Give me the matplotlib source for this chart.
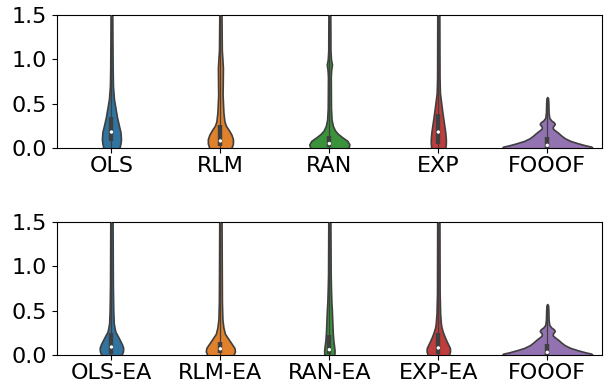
import numpy as np
import matplotlib
matplotlib.use("Agg")
import matplotlib.pyplot as plt
from matplotlib.colors import to_rgb
import colorsys

# category labels
top_labels = ["OLS", "RLM", "RAN", "EXP", "FOOOF"]
bottom_labels = ["OLS-EA", "RLM-EA", "RAN-EA", "EXP-EA", "FOOOF"]

# violin outlines: levels and relative density (half widths)
ols_y = [-0.05, 0.0, 0.05, 0.1, 0.18, 0.25, 0.35, 0.45, 0.55, 0.7, 0.9, 1.2, 1.6]
ols_d = [8, 8, 9, 9.5, 9, 7.5, 5.5, 4, 2.5, 1.5, 1.2, 1.0, 0.8]
rlm_y = [-0.05, 0.0, 0.05, 0.1, 0.15, 0.2, 0.25, 0.3, 0.4, 0.6, 0.8, 0.9, 1.0, 1.1, 1.6]
rlm_d = [11, 11, 12.5, 12.5, 11, 8.5, 5.5, 4, 3, 2.2, 2.4, 2.5, 2, 1.4, 1.0]
ran_y = [-0.05, 0.0, 0.04, 0.08, 0.12, 0.16, 0.2, 0.25, 0.32, 0.45, 0.8, 0.88, 0.94, 1.0, 1.1, 1.6]
ran_d = [19, 19, 20, 18, 13, 8.5, 5.5, 3.5, 2.2, 1.6, 1.4, 1.8, 2.6, 1.6, 1.1, 0.9]
exp_y = [-0.05, 0.0, 0.05, 0.1, 0.17, 0.25, 0.35, 0.45, 0.54, 0.62, 0.8, 1.6]
exp_d = [7, 7, 7.5, 7.5, 7, 6, 4.7, 3.5, 2.5, 1.6, 1.2, 1.0]
fooof_y = [-0.05, 0.0, 0.015, 0.03, 0.055, 0.08, 0.11, 0.14, 0.17, 0.2, 0.22,
           0.24, 0.27, 0.29, 0.31, 0.34, 0.4, 0.5, 0.56, 0.575]
fooof_d = [45, 45, 44, 38, 30, 23, 17.5, 14, 11, 7.5, 5.5,
           5.5, 7.5, 6.5, 4, 2, 1.3, 1.1, 0.8, 0.0]

olsea_y = [-0.05, 0.0, 0.04, 0.08, 0.12, 0.17, 0.22, 0.26, 0.31, 0.36, 0.5, 0.8, 1.6]
olsea_d = [10, 10, 11.5, 11.7, 10.5, 8.3, 6, 4, 3, 2.3, 1.8, 1.4, 1.1]
rlmea_y = [-0.05, 0.0, 0.04, 0.08, 0.13, 0.18, 0.24, 0.31, 0.4, 0.6, 1.6]
rlmea_d = [13, 13, 14.5, 14, 11, 8, 4.5, 3, 2, 1.5, 1.1]
ranea_y = [-0.05, 0.0, 0.05, 0.1, 0.17, 0.25, 0.36, 0.5, 0.6, 0.75, 0.9, 1.6]
ranea_d = [5, 5, 5.2, 4.7, 3.9, 3.4, 3, 2.5, 2, 1.6, 1.3, 1.0]
expea_y = [-0.05, 0.0, 0.04, 0.08, 0.15, 0.2, 0.26, 0.31, 0.36, 0.47, 0.7, 1.6]
expea_d = [10.5, 10.5, 11.7, 11.5, 8.5, 6.5, 4.5, 3.2, 2.5, 1.8, 1.3, 1.1]

# inner box: q1, median, q3, upper whisker
top_q1 = [0.08, 0.02, 0.01, 0.05, 0.005]
top_med = [0.18, 0.08, 0.05, 0.18, 0.03]
top_q3 = [0.35, 0.26, 0.14, 0.38, 0.12]
top_whi = [1.6, 1.6, 1.6, 1.6, 0.56]
bot_q1 = [0.01, 0.02, 0.01, 0.01, 0.005]
bot_med = [0.09, 0.07, 0.06, 0.08, 0.03]
bot_q3 = [0.25, 0.15, 0.22, 0.25, 0.12]
bot_whi = [1.6, 1.6, 1.6, 1.6, 0.56]

top_shapes = [(ols_y, ols_d), (rlm_y, rlm_d), (ran_y, ran_d), (exp_y, exp_d), (fooof_y, fooof_d)]
bot_shapes = [(olsea_y, olsea_d), (rlmea_y, rlmea_d), (ranea_y, ranea_d),
              (expea_y, expea_d), (fooof_y, fooof_d)]

base = ["#1f77b4", "#ff7f0e", "#2ca02c", "#d62728", "#9467bd"]


def desat(c, s=0.75):
    h, l, sat = colorsys.rgb_to_hls(*to_rgb(c))
    return colorsys.hls_to_rgb(h, l, sat * s)


colors = [desat(c) for c in base]
scale = 1 / 108.6  # density units -> x data units
edge = "#3f3f3f"

fig = plt.figure(figsize=(6.06, 3.86), dpi=100)
ax1 = fig.add_axes([0.094, 0.6166, 0.899, 0.3446])
ax2 = fig.add_axes([0.094, 0.0803, 0.899, 0.3446])


def draw(ax, shapes, labels, q1, med, q3, whi):
    for i, (yy, dd) in enumerate(shapes):
        yy = np.array(yy)
        w = np.array(dd) * scale
        ax.fill_betweenx(yy, i - w, i + w, facecolor=colors[i], edgecolor=edge,
                         linewidth=1.2, zorder=2)
        ax.vlines(i, max(0, q1[i] - 0.1), whi[i], color=edge, linewidth=0.9, zorder=3)
        ax.vlines(i, q1[i], q3[i], color=edge, linewidth=3.2, zorder=3)
        ax.scatter([i], [med[i]], s=6, color="white", zorder=4, edgecolors="none")
    ax.set_xlim(-0.5, 4.5)
    ax.set_ylim(0, 1.5)
    ax.set_yticks([0, 0.5, 1.0, 1.5])
    ax.set_xticks(range(5))
    ax.set_xticklabels(labels)
    ax.tick_params(labelsize=16)
    ax.tick_params(axis="x", pad=2.5)


draw(ax1, top_shapes, top_labels, top_q1, top_med, top_q3, top_whi)
draw(ax2, bot_shapes, bottom_labels, bot_q1, bot_med, bot_q3, bot_whi)

fig.savefig("out.png", dpi=100)
